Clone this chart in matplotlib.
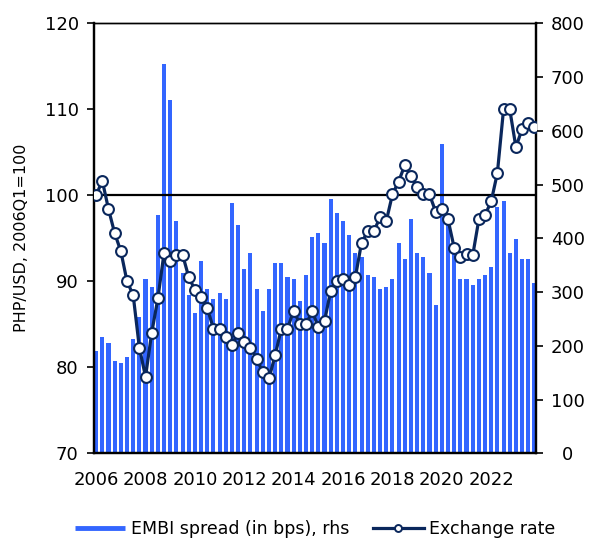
import matplotlib.pyplot as plt
from matplotlib.lines import Line2D
import numpy as np

# quarterly, 2006Q1 .. 2023Q4
year_labels = ['2006', '2008', '2010', '2012', '2014', '2016', '2018', '2020', '2022']

# PHP/USD exchange rate index, 2006Q1 = 100 (lhs)
fx_index = [
    100.0, 101.7, 98.4, 95.6, 93.5, 90.0, 88.4, 82.3,
    78.9, 84.0, 88.0, 93.3, 92.4, 93.1, 93.1, 90.5,
    89.0, 88.2, 86.9, 84.5, 84.5, 83.5, 82.6, 84.0,
    82.9, 82.3, 81.0, 79.4, 78.7, 81.4, 84.5, 84.5,
    86.6, 85.0, 85.0, 86.5, 84.7, 85.4, 88.9, 90.0,
    90.3, 89.6, 90.5, 94.5, 95.8, 95.8, 97.5, 97.0,
    100.1, 101.6, 103.5, 102.2, 101.0, 100.1, 100.1, 98.1,
    98.4, 97.2, 93.9, 92.8, 93.2, 93.0, 97.2, 97.7,
    99.3, 102.6, 110.0, 110.0, 105.6, 107.7, 108.4, 107.9,
]

# EMBI spread in bps (rhs)
embi_bps = [
    190, 216, 205, 172, 168, 179, 213, 254,
    324, 309, 443, 725, 658, 432, 335, 295,
    261, 358, 306, 287, 298, 287, 466, 425,
    343, 373, 306, 265, 306, 354, 354, 328,
    324, 283, 332, 402, 410, 391, 473, 447,
    432, 406, 372, 365, 332, 328, 306, 309,
    324, 391, 361, 436, 373, 365, 335, 276,
    576, 430, 380, 324, 324, 313, 324, 332,
    346, 458, 469, 373, 399, 361, 361, 317,
]

bar_col = '#3366FF'
line_col = '#0A275C'
fsize = 13

x = np.arange(len(fx_index))

fig = plt.figure(figsize=(5.94, 5.39), dpi=100)
ax_b = fig.add_axes([0.1582, 0.159, 0.7441, 0.7978])
ax_b.bar(x, embi_bps, width=0.66, color=bar_col, zorder=1)
ax_b.set_ylim(0, 800)
ax_b.set_yticks(np.arange(0, 801, 100))
ax_b.set_xlim(-0.35, len(x) - 1 + 0.25)
ax_b.set_xticks(np.arange(0, len(x), 8))
ax_b.set_xticklabels(year_labels)
ax_b.tick_params(axis='x', length=0, pad=13, labelsize=fsize)

ax_l = ax_b.twinx()
ax_b.yaxis.tick_right()
ax_l.yaxis.tick_left()
ax_l.yaxis.set_label_position('left')

ax_b.tick_params(axis='y', direction='out', length=5, width=1.2, labelsize=fsize, pad=18)
for lbl in ax_b.get_yticklabels():
    lbl.set_horizontalalignment('center')

ax_l.axhline(100, color='black', lw=1.6, zorder=2)
ax_l.plot(x, fx_index, color=line_col, lw=2.3, marker='o', ms=7.8,
          markerfacecolor='white', markeredgecolor=line_col, markeredgewidth=1.5, zorder=3)
ax_l.set_ylim(70, 120)
ax_l.set_yticks(np.arange(70, 121, 10))
ax_l.tick_params(axis='y', direction='out', length=5, width=1.2, labelsize=fsize, pad=6)
ax_l.set_ylabel('PHP/USD, 2006Q1=100', fontsize=11.5, labelpad=11)
ax_l.patch.set_visible(False)

for a in (ax_b, ax_l):
    for s in a.spines.values():
        s.set_color('black')
        s.set_linewidth(1.6)
    a.spines['top'].set_linewidth(1.0)

handles = [
    Line2D([], [], color=bar_col, lw=3.5, solid_capstyle='butt'),
    Line2D([], [], color=line_col, lw=2.3, marker='o', ms=5,
           markerfacecolor='white', markeredgecolor=line_col, markeredgewidth=1.4),
]
fig.legend(handles, ['EMBI spread (in bps), rhs', 'Exchange rate'],
           loc='center left', bbox_to_anchor=(75 / 594, 10 / 539), ncol=2,
           frameon=False, fontsize=12.5, handlelength=2.9, handletextpad=0.3,
           columnspacing=1.4, borderpad=0, borderaxespad=0)

fig.savefig('out.png', dpi=100)
